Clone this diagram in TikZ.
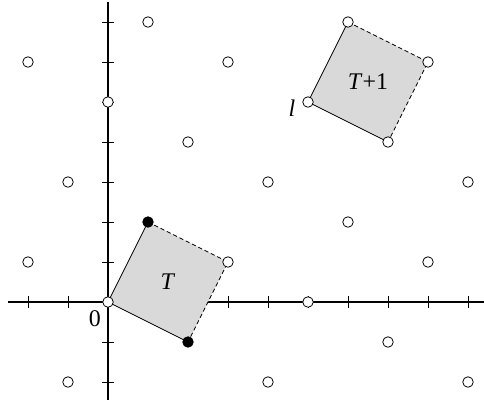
\documentclass[tikz,border=0pt]{standalone}
\usepackage{fontspec}
\setmainfont{Liberation Serif}
\begin{document}
\begin{tikzpicture}[x=1cm,y=1cm,line width=.55pt,font=\fontsize{17}{20}\selectfont,
 pt/.style={circle,draw,fill=white,inner sep=0pt,minimum size=7.5pt},
 blackpt/.style={pt,fill=black},
 axis/.style={line width=.75pt},
 cell/.style={fill=black!15},
 rim/.style={dash pattern=on 3pt off 2pt}]
\useasboundingbox (-2.7,-2.6) rectangle (9.4,7.55);
% axes and ticks
\coordinate (xl) at (-2.5,0); \coordinate (xr) at (9.4,0);
\coordinate (yb) at (0,-2.45); \coordinate (yt) at (0,7.5);
\draw[axis] (xl)--(xr) (yb)--(yt);
\foreach \x in {-2,-1,1,2,...,9}{\draw (\x,-.15)--(\x,.15);}
\foreach \y in {-2,-1,1,2,...,7}{\draw (-.15,\y)--(.15,\y);}
% the two cells
\coordinate (O) at (0,0); \coordinate (a) at (1,2);
\coordinate (b) at (3,1); \coordinate (c) at (2,-1);
\coordinate (l) at (5,5); \coordinate (la) at (6,7);
\coordinate (lb) at (8,6); \coordinate (lc) at (7,4);
\fill[cell] (O)--(a)--(b)--(c)--cycle;
\fill[cell] (l)--(la)--(lb)--(lc)--cycle;
\draw (c)--(O)--(a); \draw[rim] (a)--(b)--(c);
\draw (lc)--(l)--(la); \draw[rim] (la)--(lb)--(lc);
% lattice points
\foreach \x/\y in {-2/1,-1/3,0/5,1/7,-2/6,2/4,3/6,4/3,5/0,6/2,7/4,8/6,7/-1,8/1,9/3,9/-2,4/-2,-1/-2,6/7,5/5,3/1,0/0}{\node[pt] (p\x\y) at (\x,\y) {};}
\node[blackpt] (p12) at (a) {}; \node[blackpt] (p2-1) at (c) {};
\node (zero) at (-.33,-.42) {0};
\node (ll) at (4.6,4.85) {\textit{l}};
\node (tT) at (1.5,.5) {\textit{T}};
\node (tT1) at (6.5,5.5) {\textit{T}+1};
\end{tikzpicture}
\end{document}
